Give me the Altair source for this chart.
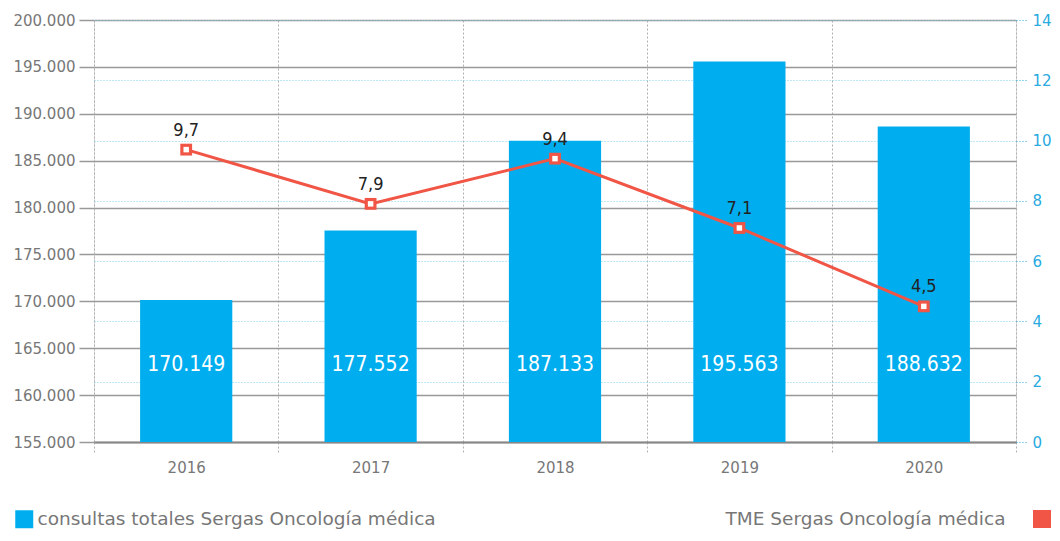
import altair as alt
import pandas as pd

years = ["2016", "2017", "2018", "2019", "2020"]
consultas = [170149, 177552, 187133, 195563, 188632]
tme = [9.7, 7.9, 9.4, 7.1, 4.5]
bar_name = "consultas totales Sergas Oncología médica"
line_name = "TME Sergas Oncología médica"

BLUE = "#00aeef"
RED = "#f05545"
AXBLUE = "#29aae1"
GRAY = "#777777"
FONT = "DejaVu Sans"
CFONT = "DejaVu Sans Condensed"

df = pd.DataFrame({
    "year": years,
    "consultas": consultas,
    "tme": tme,
    "blabel": [f"{v:,}".replace(",", ".") for v in consultas],
    "llabel": [f"{v:.1f}".replace(".", ",") for v in tme],
    "s1": [bar_name] * 5,
    "s2": [line_name] * 5,
    "s3": [line_name] * 5,
})

LSCALE = alt.Scale(domain=[155000, 200000], zero=False, nice=False)
RSCALE = alt.Scale(domain=[0, 14], zero=False, nice=False)

xenc = alt.X("year:N", title=None,
             scale=alt.Scale(paddingInner=0, paddingOuter=0),
             axis=alt.Axis(labelAngle=0, labelColor=GRAY, labelFontSize=15, labelFont=FONT,
                           labelPadding=8, tickBand="extent", grid=True, gridDash=[2, 2],
                           gridColor="#b0b0b0", tickDash=[2, 2], tickColor="#b0b0b0",
                           tickSize=10, domainColor="#888888", domainWidth=2))

yleft = alt.Y("consultas:Q", title=None, scale=LSCALE,
              axis=alt.Axis(values=list(range(155000, 200001, 5000)),
                            labelExpr="replace(format(datum.value, ','), ',', '.')",
                            labelColor=GRAY, labelFontSize=15, labelFont=FONT,
                            tickSize=15, tickColor="#999999", gridColor="#999999",
                            gridWidth=1.5, tickWidth=1.5, domain=False, labelPadding=4,
                            grid=True))

LEG_Y = 490
LEG_FS = 18.5

bars = alt.Chart(df).mark_bar(clip=True, width=alt.RelativeBandSize(0.5)).encode(
    x=xenc,
    y=yleft,
    y2=alt.datum(155000),
    color=alt.Color("s1:N", scale=alt.Scale(domain=[bar_name], range=[BLUE]),
                    legend=alt.Legend(title=None, orient="none", legendX=-79, legendY=LEG_Y,
                                      symbolType="square", symbolSize=324, symbolStrokeWidth=0,
                                      labelFontSize=LEG_FS, labelFont=FONT, labelColor=GRAY,
                                      labelOffset=4, padding=0, labelLimit=600)),
)

blabels = alt.Chart(df).mark_text(color="white", font=CFONT, fontSize=21, baseline="middle").encode(
    x=alt.X("year:N"),
    y=alt.Y("pos:Q", scale=LSCALE, axis=None),
    text="blabel:N",
).transform_calculate(pos="163200")

yright = alt.Y("tme:Q", title=None, scale=RSCALE,
               axis=alt.Axis(orient="right", values=list(range(0, 15, 2)), labelColor=AXBLUE,
                             labelFontSize=15, labelFont=FONT, tickColor=AXBLUE, tickDash=[1, 2],
                             tickSize=12, grid=True, gridColor="#7fd0ee", gridDash=[1, 2],
                             domain=False, labelPadding=4))

line = alt.Chart(df).mark_line(strokeWidth=3, color=RED).encode(
    x=alt.X("year:N"),
    y=yright,
    stroke=alt.Stroke("s2:N", scale=alt.Scale(domain=[line_name], range=[RED]),
                      legend=alt.Legend(title=None, orient="none", legendX=613, legendY=LEG_Y,
                                        symbolType="square", symbolSize=1, symbolStrokeWidth=0,
                                        labelFontSize=LEG_FS, labelFont=FONT, labelColor=GRAY,
                                        labelOffset=0, padding=0, labelLimit=600)),
)
outer = alt.Chart(df).mark_square(size=140, opacity=1).encode(
    x=alt.X("year:N"),
    y=alt.Y("tme:Q", scale=RSCALE, axis=None),
    fill=alt.Fill("s3:N", scale=alt.Scale(domain=[line_name], range=[RED]),
                  legend=alt.Legend(title=None, orient="none", legendX=939, legendY=LEG_Y,
                                    labelExpr="''", symbolType="square", symbolSize=324,
                                    symbolStrokeWidth=0, symbolOpacity=1, padding=0)),
)
inner = alt.Chart(df).mark_square(size=30, color="white", opacity=1).encode(
    x=alt.X("year:N"),
    y=alt.Y("tme:Q", scale=RSCALE, axis=None),
)
llabels = alt.Chart(df).mark_text(color="#222222", font=CFONT, fontSize=18, dy=-19).encode(
    x=alt.X("year:N"),
    y=alt.Y("tme:Q", scale=RSCALE, axis=None),
    text="llabel:N",
)

chart = alt.layer(bars, blabels, line, outer, inner, llabels).resolve_scale(
    y="independent", color="independent", fill="independent", stroke="independent"
).properties(
    width=922, height=422,
    autosize=alt.AutoSizeParams(type="none"),
    padding={"left": 86, "top": 12, "right": 36, "bottom": 90},
).configure_view(stroke=None).configure(background="white")

chart.save("out.html", embed_options={"renderer": "svg", "actions": False})
